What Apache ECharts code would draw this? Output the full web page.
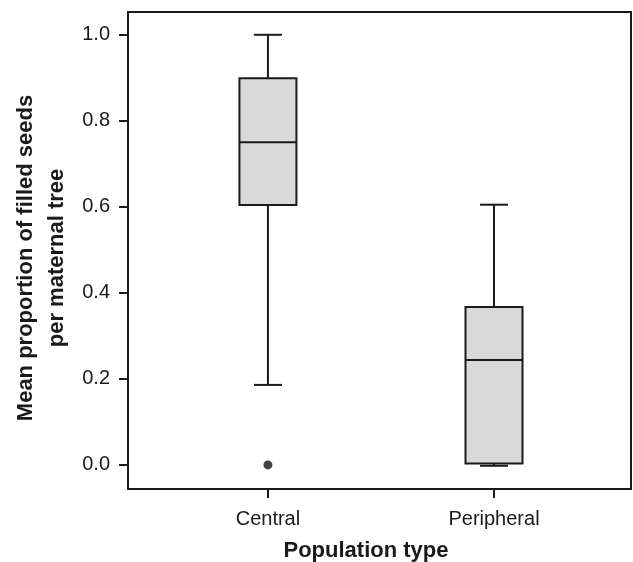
<!DOCTYPE html>
<html>
<head>
<meta charset="utf-8">
<script src="https://cdn.jsdelivr.net/npm/echarts@6/dist/echarts.min.js"></script>
<style>
  html, body { margin: 0; padding: 0; background: #fff; }
  #chart { width: 633px; height: 562px; }
</style>
</head>
<body>
<div id="chart"></div>
<script>
// population types, placed at x = 1, 2
const categories = ['Central', 'Peripheral'];
// box stats: [lower whisker, Q1, median, Q3, upper whisker]
const lowerWhisker = [0.186, -0.002];
const q1 = [0.604, 0.003];
const median = [0.750, 0.244];
const q3 = [0.899, 0.367];
const upperWhisker = [1.0, 0.605];
// outliers: [position, value]
const outliers = [[1, 0.0]];
const yTicks = [0, 0.2, 0.4, 0.6, 0.8, 1.0];

const boxData = categories.map((c, i) => [i + 1, lowerWhisker[i], q1[i], median[i], q3[i], upperWhisker[i]]);

const stroke = '#1a1a1a';
const lineW = 2;
const fontFam = 'Liberation Sans, Arial, sans-serif';

function renderBox(params, api) {
  const x = api.value(0);
  const pLo = api.coord([x, api.value(1)]);
  const pQ1 = api.coord([x, api.value(2)]);
  const pMed = api.coord([x, api.value(3)]);
  const pQ3 = api.coord([x, api.value(4)]);
  const pHi = api.coord([x, api.value(5)]);
  const halfBox = 28.5;
  const halfCap = 14;
  const cx = pMed[0];
  const ls = { stroke: stroke, lineWidth: lineW };
  return {
    type: 'group',
    children: [
      { type: 'line', shape: { x1: cx, y1: pHi[1], x2: cx, y2: pQ3[1] }, style: ls },
      { type: 'line', shape: { x1: cx, y1: pLo[1], x2: cx, y2: pQ1[1] }, style: ls },
      { type: 'line', shape: { x1: cx - halfCap, y1: pHi[1], x2: cx + halfCap, y2: pHi[1] }, style: ls },
      { type: 'line', shape: { x1: cx - halfCap, y1: pLo[1], x2: cx + halfCap, y2: pLo[1] }, style: ls },
      { type: 'rect', shape: { x: cx - halfBox, y: pQ3[1], width: halfBox * 2, height: pQ1[1] - pQ3[1] },
        style: { fill: '#d9d9d9', stroke: stroke, lineWidth: lineW } },
      { type: 'line', shape: { x1: cx - halfBox, y1: pMed[1], x2: cx + halfBox, y2: pMed[1] }, style: ls }
    ]
  };
}

const chart = echarts.init(document.getElementById('chart'));
chart.setOption({
  animation: false,
  backgroundColor: '#fff',
  textStyle: { fontFamily: fontFam },
  grid: { left: 128, right: 2, top: 12, bottom: 73, show: true, borderColor: stroke, borderWidth: lineW },
  xAxis: {
    type: 'value',
    min: 0.381,
    max: 2.606,
    splitLine: { show: false },
    axisLine: { show: true, onZero: false, lineStyle: { color: stroke, width: lineW } },
    axisTick: { show: true, length: 9, customValues: [1, 2], lineStyle: { color: stroke, width: lineW } },
    axisLabel: {
      customValues: [1, 2],
      margin: 20,
      color: '#1a1a1a',
      fontSize: 20,
      formatter: v => categories[Math.round(v) - 1] || ''
    }
  },
  yAxis: {
    type: 'value',
    min: -0.056,
    max: 1.053,
    splitLine: { show: false },
    axisLine: { show: true, onZero: false, lineStyle: { color: stroke, width: lineW } },
    axisTick: { show: true, length: 9, customValues: yTicks, lineStyle: { color: stroke, width: lineW } },
    axisLabel: {
      customValues: yTicks,
      margin: 18,
      color: '#1a1a1a',
      fontSize: 20,
      formatter: v => v.toFixed(1)
    }
  },
  graphic: [
    {
      type: 'text',
      x: 41, y: 258,
      rotation: Math.PI / 2,
      style: {
        text: 'Mean proportion of filled seeds\nper maternal tree',
        font: 'bold 22px ' + fontFam,
        fill: '#1a1a1a',
        align: 'center',
        verticalAlign: 'middle',
        lineHeight: 31
      }
    },
    {
      type: 'text',
      x: 366, y: 551,
      style: {
        text: 'Population type',
        font: 'bold 22px ' + fontFam,
        fill: '#1a1a1a',
        align: 'center',
        verticalAlign: 'middle'
      }
    }
  ],
  series: [
    {
      type: 'custom',
      renderItem: renderBox,
      data: boxData,
      encode: { x: 0, y: [1, 2, 3, 4, 5] }
    },
    {
      type: 'scatter',
      data: outliers,
      symbol: 'circle',
      symbolSize: 9,
      itemStyle: { color: '#111' }
    }
  ]
});
</script>
</body>
</html>
